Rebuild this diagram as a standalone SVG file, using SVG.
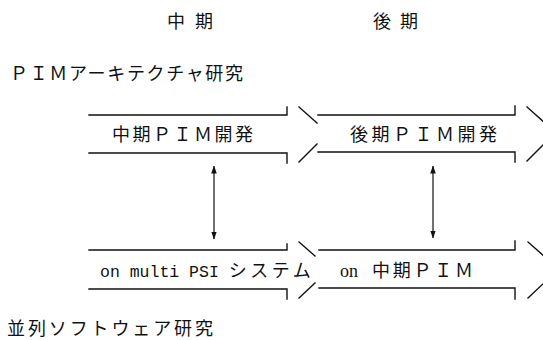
<svg xmlns="http://www.w3.org/2000/svg" width="543" height="340" viewBox="0 0 543 340">
<style>
.ln{fill:none;stroke:#111;stroke-width:1.4;stroke-linecap:square}
.t{font-family:"Noto Sans CJK JP","Liberation Serif",serif;font-size:18px;fill:#111}
.m{font-family:"Liberation Mono",monospace;font-size:16.5px;fill:#111}
.s{font-family:"Liberation Serif",serif;font-size:18px;fill:#111}
.c{fill:none;stroke:#111;stroke-width:1.2}
</style>
<defs>
<marker id="ah" viewBox="0 0 8 8" refX="7.5" refY="4" markerWidth="8" markerHeight="8" markerUnits="userSpaceOnUse" orient="auto-start-reverse">
<path d="M0,1.2 L8,4 L0,6.8 Z" fill="#111"/>
</marker>
</defs>
<rect width="543" height="340" fill="#fff"/>
<g id="headers">
<text class="t" x="167" y="28" textLength="46" lengthAdjust="spacing">中 期</text>
<text class="t" x="373" y="28" textLength="45" lengthAdjust="spacing">後 期</text>
<text class="t" x="10" y="80" textLength="233" lengthAdjust="spacing">ＰＩＭアーキテクチャ研究</text>
<text class="t" x="7" y="335" textLength="206" lengthAdjust="spacing">並列ソフトウェア研究</text>
</g>
<g id="node-mid-pim">
<path class="ln" d="M89,115 H287 V107 M299,107 L317,123 M89,153 H287 V163 M299,162 L317,144"/>
<text class="t" x="112" y="141" textLength="141" lengthAdjust="spacing">中期ＰＩＭ開発</text>
</g>
<g id="node-late-pim">
<path class="ln" d="M318,115 H515 V106 M527,107 L545,123 M318,152 H515 V162 M527,161 L545,143"/>
<text class="t" x="350" y="141" textLength="147" lengthAdjust="spacing">後期ＰＩＭ開発</text>
</g>
<g id="node-multipsi">
<path class="ln" d="M89,250 H287 V244 M299,242 L315,256 M89,289 H287 V299 M299,298 L315,283"/>
<text x="100" y="277"><tspan class="m">on multi PSI </tspan><tspan class="t" textLength="82" lengthAdjust="spacing">システム</tspan></text>
</g>
<g id="node-on-mid-pim">
<path class="ln" d="M319,250 H515 V241 M528,242 L545,257 M319,288 H515 V299 M528,298 L545,282"/>
<text x="340" y="277"><tspan class="s">on </tspan><tspan class="t" x="372" textLength="101" lengthAdjust="spacing">中期ＰＩＭ</tspan></text>
</g>
<g id="connectors">
<line class="c" x1="214" y1="166" x2="214" y2="239" marker-start="url(#ah)" marker-end="url(#ah)"/>
<line class="c" x1="433" y1="166" x2="433" y2="238" marker-start="url(#ah)" marker-end="url(#ah)"/>
</g>
</svg>
